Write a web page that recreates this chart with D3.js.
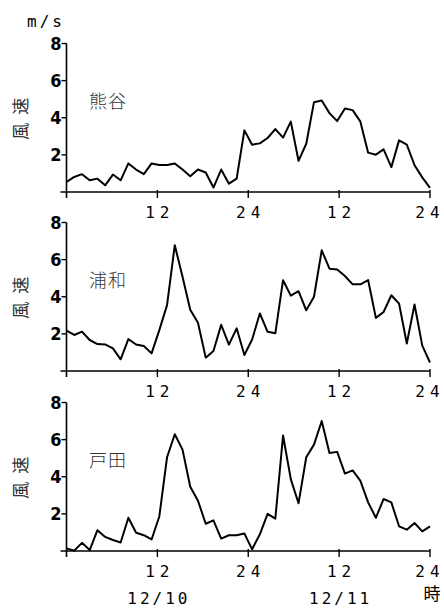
<!DOCTYPE html>
<html>
<head>
<meta charset="utf-8">
<script src="https://cdn.jsdelivr.net/npm/d3@7"></script>
<style>
  body { margin: 0; background: #fff; }
  svg { display: block; }
  .tick-y { font-family: "Liberation Sans Narrow", "DejaVu Sans Condensed", sans-serif; font-size: 18px; font-weight: bold; }
  .tick-x { font-family: "DejaVu Sans Mono", monospace; font-size: 16px; }
  .jp { font-family: "Noto Sans CJK JP", sans-serif; }
</style>
</head>
<body>
<div id="chart"></div>
<script>
// wind speed (m/s), hourly, 12/10 0h .. 12/11 24h
const stations = ["熊谷", "浦和", "戸田"];
const kumagaya = [0.54, 0.81, 0.96, 0.63, 0.72, 0.36, 0.94, 0.63, 1.54, 1.21, 0.96, 1.54,
  1.45, 1.45, 1.54, 1.21, 0.85, 1.21, 1.05, 0.24, 1.21, 0.45, 0.72, 3.32,
  2.55, 2.62, 2.91, 3.39, 2.93, 3.79, 1.68, 2.6, 4.84, 4.93, 4.25, 3.82,
  4.5, 4.41, 3.79, 2.12, 2.01, 2.3, 1.34, 2.78, 2.55, 1.44, 0.79, 0.22];
const urawa = [2.18, 1.94, 2.12, 1.67, 1.45, 1.43, 1.22, 0.63, 1.72, 1.43, 1.35, 0.95,
  2.2, 3.55, 6.78, 5.08, 3.3, 2.6, 0.72, 1.08, 2.49, 1.42, 2.3, 0.86,
  1.7, 3.1, 2.11, 2.03, 4.89, 4.06, 4.3, 3.27, 4.0, 6.5, 5.51, 5.47,
  5.12, 4.67, 4.67, 4.9, 2.86, 3.18, 4.08, 3.63, 1.48, 3.58, 1.37, 0.46];
const toda = [0.14, 0.02, 0.44, 0.05, 1.12, 0.76, 0.59, 0.46, 1.79, 0.98, 0.85, 0.62,
  1.86, 5.05, 6.29, 5.46, 3.46, 2.71, 1.47, 1.65, 0.67, 0.85, 0.85, 0.94,
  0.09, 0.9, 2.0, 1.74, 6.22, 3.87, 2.57, 5.05, 5.73, 7.0, 5.28, 5.34,
  4.17, 4.34, 3.78, 2.62, 1.79, 2.8, 2.62, 1.33, 1.15, 1.51, 1.06, 1.33];
const series = [kumagaya, urawa, toda];

const yTicks = [2, 4, 6, 8];
const xTicks = [12, 24, 36, 48];
const xTickLabels = ["12", "24", "12", "24"];
const dateHours = [12, 36];
const dateLabels = ["12/10", "12/11"];

const width = 444, height = 609;
const bottoms = [192, 371, 551];
const panelH = 148.5;
const spacing = 5;

const svg = d3.select("#chart").append("svg")
    .attr("width", width)
    .attr("height", height);

const x = d3.scaleLinear().domain([0, 48]).range([66.5, 430]);
// readings are spread from the axis to the 24h tick
const xi = d3.scaleLinear().domain([0, kumagaya.length - 1]).range(x.range());

series.forEach((values, p) => {
    const y = d3.scaleLinear().domain([0, 8]).range([bottoms[p], bottoms[p] - panelH]);
    const g = svg.append("g");

    // axes
    g.append("line")
        .attr("x1", x(0)).attr("x2", x(0))
        .attr("y1", y(8)).attr("y2", y(0) + 6)
        .attr("stroke", "#000").attr("stroke-width", 1.6);
    g.append("line")
        .attr("x1", x(0) - 6).attr("x2", x(48))
        .attr("y1", y(0)).attr("y2", y(0))
        .attr("stroke", "#000").attr("stroke-width", 1.6);

    g.selectAll(".yt").data(yTicks).enter().append("line")
        .attr("x1", x(0) - 5).attr("x2", x(0))
        .attr("y1", d => y(d)).attr("y2", d => y(d))
        .attr("stroke", "#000").attr("stroke-width", 1.4);
    g.selectAll(".yl").data(yTicks).enter().append("text")
        .attr("class", "tick-y")
        .attr("x", x(0) - 5)
        .attr("y", d => y(d) + 6.5)
        .attr("text-anchor", "end")
        .text(d => d);

    g.selectAll(".xt").data(xTicks).enter().append("line")
        .attr("x1", d => x(d)).attr("x2", d => x(d))
        .attr("y1", y(0) - 2).attr("y2", y(0) + 6)
        .attr("stroke", "#000").attr("stroke-width", 1.4);
    g.selectAll(".xl").data(xTicks).enter().append("text")
        .attr("class", "tick-x")
        .attr("x", d => Math.min(x(d) + spacing / 2, 430))
        .attr("y", y(0) + 26)
        .attr("text-anchor", "middle")
        .attr("letter-spacing", spacing)
        .text((d, i) => xTickLabels[i]);

    // axis title
    g.append("text")
        .attr("class", "jp")
        .attr("transform", `translate(27,${y(4) - 3}) rotate(-90)`)
        .attr("text-anchor", "middle")
        .attr("font-size", 17)
        .attr("letter-spacing", 8)
        .attr("fill", "#333")
        .text("風速");

    g.append("text")
        .attr("class", "jp")
        .attr("x", 89)
        .attr("y", y(8) + 64)
        .attr("font-size", 18)
        .attr("letter-spacing", 1)
        .attr("fill", "#333")
        .attr("font-weight", 300)
        .text(stations[p]);

    const line = d3.line()
        .x((d, i) => xi(i))
        .y(d => y(d));
    g.append("path")
        .datum(values)
        .attr("d", line)
        .attr("fill", "none")
        .attr("stroke", "#000")
        .attr("stroke-width", 2)
        .attr("stroke-linejoin", "round");
});

svg.append("text")
    .attr("class", "tick-x")
    .attr("x", 27).attr("y", 27)
    .attr("letter-spacing", 3)
    .text("m/s");

svg.selectAll(".date").data(dateHours).enter().append("text")
    .attr("class", "tick-x")
    .attr("x", d => x(d) + 1.5)
    .attr("y", 604)
    .attr("text-anchor", "middle")
    .attr("letter-spacing", 3)
    .text((d, i) => dateLabels[i]);

svg.append("text")
    .attr("class", "jp")
    .attr("x", 432).attr("y", 600)
    .attr("text-anchor", "middle")
    .attr("font-size", 17)
    .text("時");
</script>
</body>
</html>
